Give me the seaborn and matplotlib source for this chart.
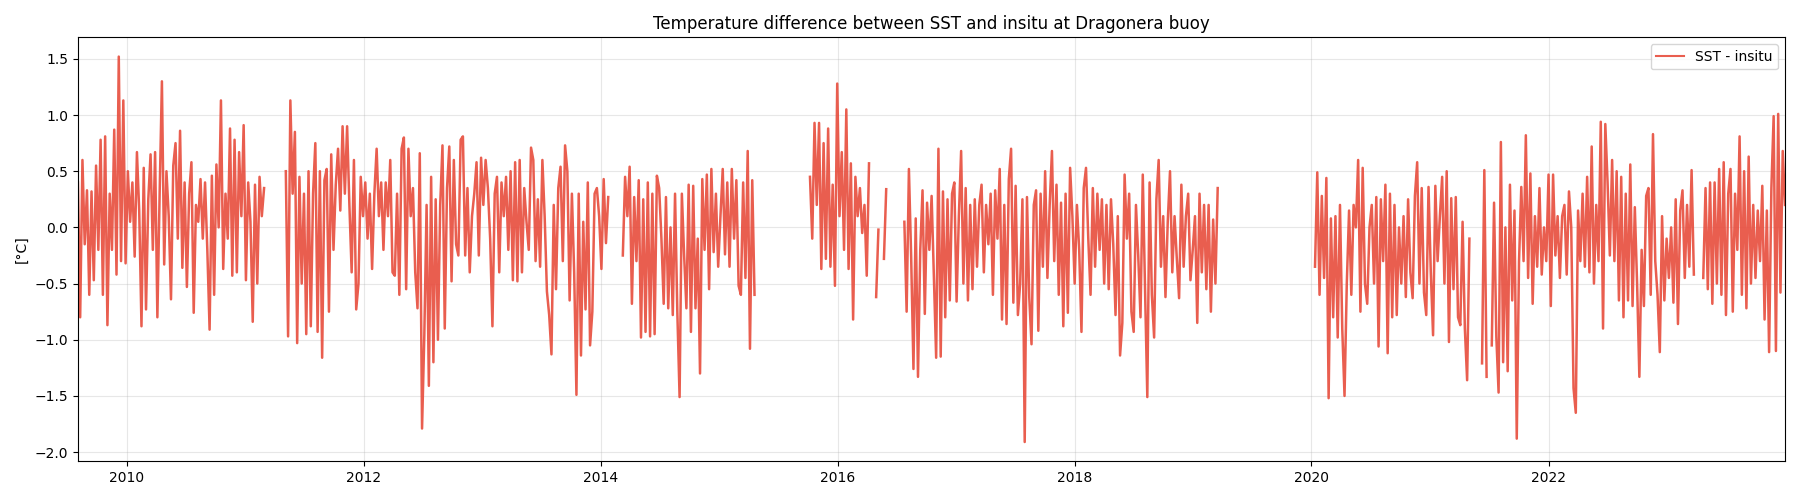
import pandas as pd
import matplotlib
matplotlib.use("Agg")
import matplotlib.pyplot as plt
from matplotlib.lines import Line2D
import seaborn as sns

# weekly SST - insitu differences [degC], one list per continuous stretch of data
seg_a_start = "2009-08-03"
seg_a = [0.40, -0.80, 0.60, -0.15, 0.33, -0.60, 0.32, -0.47, 0.55, -0.20,
         0.78, -0.60, 0.81, -0.87, 0.30, -0.20, 0.87, -0.42, 1.52, -0.30,
         1.13, -0.32, 0.50, 0.05, 0.40, -0.26, 0.67, 0.15, -0.88, 0.53,
         -0.73, 0.25, 0.65, -0.20, 0.67, -0.80, 0.30, 1.30, -0.33, 0.50,
         0.10, -0.64, 0.55, 0.75, -0.10, 0.86, -0.36, 0.40, -0.53, 0.30,
         0.58, -0.76, 0.20, 0.05, 0.43, -0.10, 0.40, -0.20, -0.91, 0.46,
         -0.60, 0.56, 0.00, 1.13, -0.37, 0.30, -0.10, 0.88, -0.43, 0.78,
         -0.40, 0.67, 0.10, 0.91, -0.47, 0.40, 0.05, -0.84, 0.38, -0.50,
         0.45, 0.10, 0.35]

seg_b_start = "2011-05-06"
seg_b = [0.50, -0.97, 1.13, 0.30, 0.85, -1.03, 0.45, -0.50, 0.30, -0.95,
         0.50, -0.88, 0.30, 0.75, -0.93, 0.50, -1.16, 0.42, 0.52, -0.75,
         0.65, -0.20, 0.38, 0.70, 0.15, 0.90, 0.30, 0.90, 0.20, -0.40,
         0.60, -0.73, -0.50, 0.45, 0.10, 0.40, -0.10, 0.30, -0.37, 0.30,
         0.70, 0.10, 0.40, -0.20, 0.40, 0.10, 0.60, -0.40, -0.43, 0.30,
         -0.60, 0.70, 0.80, -0.55, 0.70, 0.10, 0.35, -0.40, -0.72, 0.66,
         -1.79, -0.96, 0.20, -1.41, 0.45, -1.20, 0.25, -1.00, 0.20, 0.73,
         -0.90, 0.35, 0.72, -0.48, 0.60, -0.15, -0.25, 0.78, 0.81, -0.25,
         0.35, -0.40, 0.10, 0.30, 0.58, -0.25, 0.62, 0.20, 0.60, 0.35,
         -0.10, -0.88, 0.30, 0.45, -0.40, 0.40, 0.10, 0.45, -0.20, 0.50,
         -0.47, 0.58, -0.48, 0.60, -0.40, 0.35, 0.05, -0.20, 0.71, 0.60,
         -0.30, 0.25, -0.35, 0.60, 0.10, -0.57, -0.78, -1.13, 0.20, -0.55,
         0.35, 0.54, -0.30, 0.73, 0.50, -0.65, 0.30, -0.40, -1.49, 0.30,
         -1.14, 0.05, -0.73, 0.40, -1.05, -0.75, 0.30, 0.35, 0.10, -0.37,
         0.43, -0.14, 0.27]

seg_c_start = "2014-03-10"
seg_c = [-0.25, 0.45, 0.10, 0.54, -0.68, 0.27, -0.30, 0.42, -0.98, 0.25,
         -0.93, 0.40, -0.97, 0.30, -0.95, 0.46, 0.35, -0.10, -0.68, 0.27,
         -0.72, 0.00, -0.78, 0.30, -0.75, -1.51, 0.30, -0.25, -0.72, 0.38,
         -0.93, 0.37, -0.72, -0.10, -1.30, 0.43, -0.20, 0.47, -0.55, 0.52,
         -0.22, 0.30, -0.35, 0.10, 0.52, -0.24, 0.40, -0.35, 0.52, -0.10,
         0.42, -0.52, -0.60, 0.40, -0.45, 0.68, -1.08, 0.42, -0.60]

seg_d_start = "2015-10-08"
seg_d = [0.45, -0.10, 0.93, 0.20, 0.93, -0.37, 0.75, -0.28, 0.88, -0.35,
         0.38, -0.52, 1.28, 0.10, 0.67, -0.20, 1.05, -0.37, 0.57, -0.82,
         0.45, 0.10, 0.35, -0.05, 0.20, -0.43, 0.57]

seg_d2_start = "2016-04-29"
seg_d2 = [-0.62, -0.02]

seg_d3_start = "2016-05-23"
seg_d3 = [-0.28, 0.34]

seg_e_start = "2016-07-25"
seg_e = [0.05, -0.75, 0.52, -0.27, -1.26, 0.08, -1.33, -0.20, 0.33, -0.77,
         0.22, -0.20, 0.28, -0.45, -1.16, 0.70, -1.15, 0.32, -0.80, 0.25,
         -0.65, 0.30, 0.40, -0.66, 0.10, 0.68, -0.50, 0.35, -0.65, 0.20,
         -0.55, 0.25, -0.35, 0.20, 0.38, -0.40, 0.20, -0.15, 0.30, -0.60,
         0.33, -0.10, 0.52, -0.82, 0.20, -0.86, 0.43, 0.70, -0.67, 0.37,
         -0.78, -0.50, 0.25, -1.91, 0.27, -0.62, -1.04, 0.20, 0.33, -0.92,
         0.30, -0.35, 0.50, -0.45, 0.20, 0.68, -0.30, 0.38, -0.60, 0.22,
         -0.88, 0.30, -0.76, 0.53, 0.10, -0.50, 0.20, -0.20, -0.93, 0.35,
         0.53, -0.10, -0.60, 0.35, -0.35, 0.30, -0.20, 0.25, -0.50, 0.20,
         -0.55, 0.25, -0.15, -0.78, 0.10, -1.14, -0.85, 0.47, -0.10, 0.30,
         -0.75, -0.93, 0.20, -0.25, -0.80, 0.47, -0.55, -1.51, 0.40, -0.60,
         -0.98, 0.25, 0.60, -0.35, 0.10, -0.62, 0.05, 0.50, -0.40, 0.10,
         -0.28, -0.63, 0.38, -0.35, 0.10, 0.30, -0.47, -0.20, 0.10, -0.85,
         0.30, -0.40, 0.20, -0.55, 0.20, -0.75, 0.07, -0.50, 0.35]

seg_f_start = "2020-01-12"
seg_f = [-0.35, 0.49, -0.60, 0.28, -0.45, 0.44, -1.52, 0.08, -0.80, 0.10,
         -0.98, 0.20, -0.90, -1.50, -0.50, 0.15, -0.60, 0.20, 0.00, 0.60,
         -0.75, 0.53, -0.50, -0.68, 0.00, 0.20, -0.50, 0.27, -1.06, 0.25,
         -0.30, 0.38, -1.12, 0.30, -0.80, 0.20, -0.78, 0.00, -0.50, 0.10,
         -0.62, 0.25, -0.40, -0.63, 0.28, 0.58, -0.50, 0.35, -0.58, -0.78,
         0.36, -0.40, -0.96, 0.37, -0.30, 0.10, 0.45, -0.50, 0.50, -1.02,
         0.26, -0.55, 0.27, -0.80, -0.87, 0.05, -0.90, -1.36, -0.10]

seg_f2_start = "2021-06-10"
seg_f2 = [-1.21, 0.51, -1.33]

seg_g_start = "2021-07-10"
seg_g = [-1.05, 0.22, -0.97, -1.47, 0.76, -1.20, 0.00, -1.28, 0.38, -0.65,
         0.15, -1.88, -0.30, 0.36, -0.30, 0.82, -0.45, 0.48, -0.68, 0.10,
         -0.35, 0.35, -0.42, 0.00, -0.30, 0.47, -0.70, 0.47, -0.25, 0.10,
         -0.45, 0.10, 0.20, -0.42, 0.32, 0.00, -1.43, -1.65, 0.15, -0.30,
         0.30, -0.35, 0.45, -0.40, 0.72, -0.50, 0.20, -0.30, 0.94, -0.90,
         0.92, 0.40, -0.25, 0.60, -0.30, 0.50, -0.65, 0.45, -0.80, 0.30,
         -0.65, 0.56, -0.70, 0.18, -0.50, -1.33, -0.20, -0.70, 0.28, 0.35,
         -0.60, 0.83, -0.30, -0.60, -1.11, 0.10, -0.65, -0.10, -0.45, 0.00,
         -0.67, 0.25, -0.86, 0.15, 0.33, -0.45, 0.20, -0.35, 0.51, -0.42]

seg_g2_start = "2023-04-23"
seg_g2 = [-0.45, 0.35, -0.55, 0.40, -0.68, 0.40, -0.50, 0.52, -0.60, 0.58,
          -0.78, 0.30, 0.52, -0.75, 0.30, -0.20, 0.81, -0.60, 0.50, -0.72,
          0.63, -0.50, 0.20, -0.45, 0.15, -0.30, 0.37, -0.82, 0.15, -1.11,
          0.35, 0.99, -1.10, 1.01, -0.58, 0.68, 0.20]

segments = [(seg_a_start, seg_a), (seg_b_start, seg_b), (seg_c_start, seg_c),
            (seg_d_start, seg_d), (seg_d2_start, seg_d2), (seg_d3_start, seg_d3),
            (seg_e_start, seg_e), (seg_f_start, seg_f), (seg_f2_start, seg_f2),
            (seg_g_start, seg_g), (seg_g2_start, seg_g2)]

frames = []
for k, (start, vals) in enumerate(segments):
    frames.append(pd.DataFrame({
        "time": pd.date_range(start, periods=len(vals), freq="7D"),
        "diff": vals,
        "seg": k,
    }))
df = pd.concat(frames, ignore_index=True)

line_color = "#e74c3c"

fig, ax = plt.subplots(figsize=(18, 5), dpi=100)
# gaps between stretches are kept by drawing each stretch as its own unit
sns.lineplot(data=df, x="time", y="diff", units="seg", estimator=None,
             color=line_color, alpha=0.9, linewidth=1.8, ax=ax)

ax.set_xlim(df["time"].min(), df["time"].max())
ax.set_title("Temperature difference between SST and insitu at Dragonera buoy", fontsize=12)
ax.set_xlabel("")
ax.set_ylabel("[°C]")
ax.grid(True, alpha=0.3)
handle = Line2D([], [], color=line_color, alpha=0.9, linewidth=1.5)
ax.legend([handle], ["SST - insitu"], loc="upper right")

plt.tight_layout()
fig.savefig("out.png", dpi=100)
